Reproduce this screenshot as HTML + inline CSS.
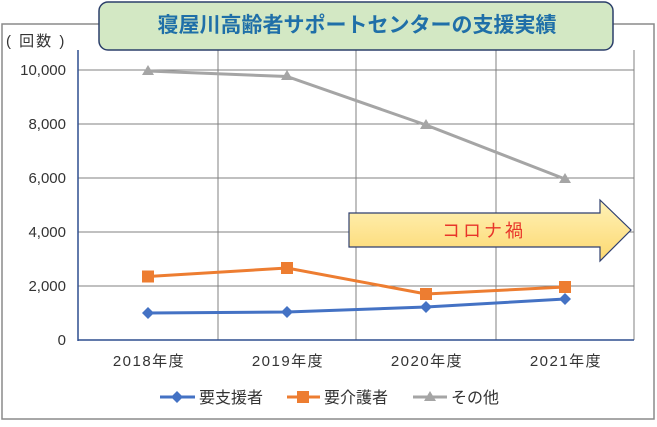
<!DOCTYPE html>
<html><head><meta charset="utf-8"><style>
body{margin:0;background:#fff;}
svg text{font-family:"Liberation Sans","Noto Sans CJK JP",sans-serif;}
</style></head><body>
<svg width="657" height="422" viewBox="0 0 657 422" xmlns="http://www.w3.org/2000/svg">
<defs><linearGradient id="g" x1="0" y1="0" x2="0" y2="1"><stop offset="0" stop-color="#fff2b8"/><stop offset="1" stop-color="#fcd870"/></linearGradient></defs>
<rect x="2" y="24" width="652" height="395" fill="#fff" stroke="#8a8a8a" stroke-width="1.5"/>
<g stroke="#808080" stroke-width="1">
<line x1="78" y1="70" x2="634" y2="70"/><line x1="78" y1="124" x2="634" y2="124"/><line x1="78" y1="178" x2="634" y2="178"/><line x1="78" y1="232" x2="634" y2="232"/><line x1="78" y1="286" x2="634" y2="286"/>
<line x1="218" y1="50" x2="218" y2="340"/><line x1="356" y1="50" x2="356" y2="340"/><line x1="496" y1="50" x2="496" y2="340"/><line x1="634" y1="50" x2="634" y2="340"/>
</g>
<line x1="78" y1="50" x2="78" y2="341" stroke="#2f4f8f" stroke-width="1.5"/>
<line x1="78" y1="340" x2="634" y2="340" stroke="#2f4f8f" stroke-width="1.5"/>
<g font-size="15" fill="#333" text-anchor="end">
<text x="66" y="75">10,000</text><text x="66" y="129">8,000</text><text x="66" y="183">6,000</text><text x="66" y="237">4,000</text><text x="66" y="291">2,000</text><text x="66" y="345">0</text>
</g>
<text x="6" y="46" font-size="15" fill="#333" letter-spacing="2">( 回数 )</text>
<g font-size="15" fill="#333" text-anchor="middle" letter-spacing="1.5">
<text x="149" y="366">2018年度</text><text x="288" y="366">2019年度</text><text x="427" y="366">2020年度</text><text x="566" y="366">2021年度</text>
</g>
<polygon points="349,213 600,213 600,200 631,230 600,261 600,247 349,247" fill="url(#g)" stroke="#2f3f6f" stroke-width="1.2"/>
<text x="484" y="237" font-size="18" fill="#e8352a" text-anchor="middle" letter-spacing="3">コロナ禍</text>
<polyline points="148,71 287,76.5 426,125 565,179" fill="none" stroke="#a5a5a5" stroke-width="3"/>
<g fill="#a5a5a5"><polygon points="148,65 154,75 142,75"/><polygon points="287,70 293,80 281,80"/><polygon points="426,119 432,129 420,129"/><polygon points="565,173 571,183 559,183"/></g>
<polyline points="148,276.5 287,268 426,294 565,287" fill="none" stroke="#ed7d31" stroke-width="3"/>
<g fill="#ed7d31"><rect x="142" y="270.5" width="12" height="12"/><rect x="281" y="262" width="12" height="12"/><rect x="420" y="288" width="12" height="12"/><rect x="559" y="281" width="12" height="12"/></g>
<polyline points="148,313 287,312 426,307 565,299" fill="none" stroke="#4472c4" stroke-width="3"/>
<g fill="#4472c4"><polygon points="148,307 154,313 148,319 142,313"/><polygon points="287,306 293,312 287,318 281,312"/><polygon points="426,301 432,307 426,313 420,307"/><polygon points="565,293 571,299 565,305 559,299"/></g>
<line x1="160" y1="397" x2="195" y2="397" stroke="#4472c4" stroke-width="3"/><polygon points="177,391 183,397 177,403 171,397" fill="#4472c4"/>
<text x="199" y="403" font-size="16" fill="#333">要支援者</text>
<line x1="287" y1="397" x2="320" y2="397" stroke="#ed7d31" stroke-width="3"/><rect x="297" y="391" width="12" height="12" fill="#ed7d31"/>
<text x="324" y="403" font-size="16" fill="#333">要介護者</text>
<line x1="413" y1="397" x2="447" y2="397" stroke="#a5a5a5" stroke-width="3"/><polygon points="430,391 436,401 424,401" fill="#a5a5a5"/>
<text x="451" y="403" font-size="16" fill="#333">その他</text>
<rect x="99" y="2" width="514" height="48" rx="9" fill="#d3e8c4" stroke="#2b3f6a" stroke-width="1.5"/>
<text x="357" y="32" font-size="21" font-weight="bold" fill="#1f6fa8" text-anchor="middle">寝屋川高齢者サポートセンターの支援実績</text>
</svg>
</body></html>
